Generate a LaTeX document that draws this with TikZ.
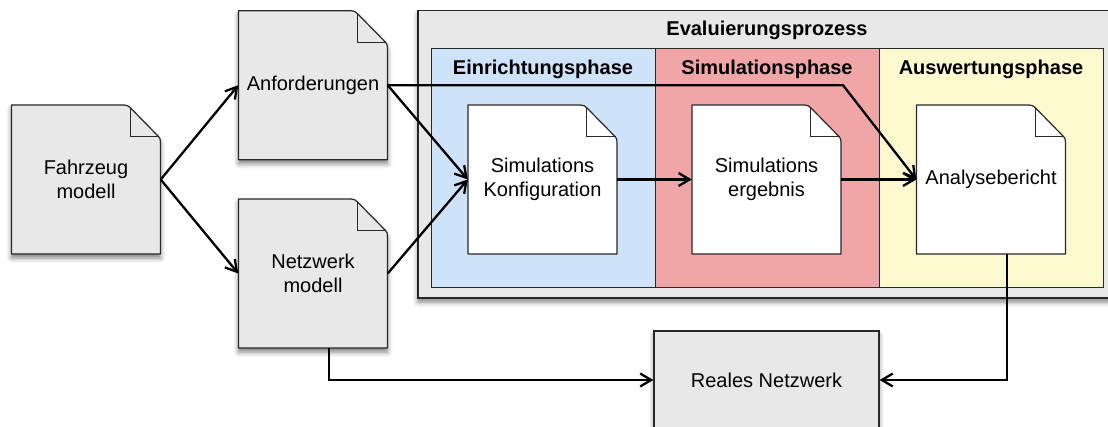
\documentclass[tikz,border=0pt]{standalone}
\usepackage{fontspec}
\setmainfont{Liberation Sans}
\usetikzlibrary{arrows.meta,shadows.blur,calc}
\definecolor{docgray}{RGB}{232,232,232}
\definecolor{phblue}{RGB}{206,226,250}
\definecolor{phred}{RGB}{240,166,166}
\definecolor{phyellow}{RGB}{252,249,206}
\definecolor{edgegray}{RGB}{40,40,40}
\tikzset{
  docoutline/.style={draw=edgegray, line width=1.2pt, line join=round},
  foldline/.style={draw=edgegray, line width=0.9pt},
  softshadow/.style={blur shadow={shadow xshift=0pt, shadow yshift=-4pt, shadow blur radius=5pt, shadow opacity=50}},
  doclabel/.style={minimum width=149pt, minimum height=149pt, inner sep=0pt, align=center, font=\fontsize{20}{24}\selectfont},
  conn/.style={line width=2.3pt, -{Straight Barb[length=11pt,width=13pt]}},
  bigbox/.style={draw=black!85, line width=1.5pt, fill=docgray, inner sep=0pt},
  phasebox/.style={draw=edgegray, line width=0.9pt, inner sep=0pt, minimum width=224pt, minimum height=239pt},
  boldlabel/.style={font=\fontsize{20}{24}\selectfont\bfseries, inner sep=0pt},
  plainbox/.style={draw=edgegray, line width=1.2pt, fill=docgray, inner sep=0pt, font=\fontsize{20}{24}\selectfont}
}
% #1 name, #2 x, #3 y, #4 fill, #5 extra style, #6 text
\newcommand\docnode[6]{%
  \begin{scope}[shift={(#2,#3)}]
    \path[docoutline, fill=#4, #5] (-74.5,-74.5) -- (38,-74.5)
      .. controls (41,-74.5) and (42.5,-73.5) .. (44.5,-71.5) -- (72.5,-43)
      .. controls (74,-41.5) and (74.5,-40) .. (74.5,-37) -- (74.5,74.5) -- (-74.5,74.5) -- cycle;
    \draw[foldline] (44,-72) -- (44,-43) -- (73,-43);
  \end{scope}
  \node[doclabel] (#1) at (#2,#3) {#6};
}
\begin{document}
\begin{tikzpicture}[x=1pt,y=-1pt]
\useasboundingbox (0,0) rectangle (1108,427);

% evaluation container
\node[bigbox, softshadow, minimum width=697pt, minimum height=287.3pt] (eval) at (766.5,154.35) {};
\node[boldlabel] (evaltitle) at (767,30) {Evaluierungsprozess};

% phases
\node[phasebox, fill=phblue] (p1) at (543,167.5) {};
\node[phasebox, fill=phred] (p2) at (767,167.5) {};
\node[phasebox, fill=phyellow] (p3) at (991,167.5) {};
\node[boldlabel] (p1t) at (543,69) {Einrichtungsphase};
\node[boldlabel] (p2t) at (767,69) {Simulationsphase};
\node[boldlabel] (p3t) at (991,69) {Auswertungsphase};

% documents
\docnode{fz}{86}{179.5}{docgray}{softshadow}{Fahrzeug\\modell}
\docnode{anf}{313}{85.2}{docgray}{softshadow}{Anforderungen}
\docnode{net}{313}{273.5}{docgray}{softshadow}{Netzwerk\\modell}
\docnode{sk}{542.5}{179.5}{white}{}{Simulations\\Konfiguration}
\docnode{se}{766.5}{179.5}{white}{}{Simulations\\ergebnis}
\docnode{ab}{991}{179.5}{white}{}{Analysebericht}

% real network
\node[plainbox, softshadow, minimum width=225pt, minimum height=98pt] (rn) at (766.5,380) {Reales Netzwerk};

% connectors
\coordinate (bend) at (843,0);
\draw[conn] (fz.east) -- (anf.west);
\draw[conn] (fz.east) -- (net.west);
\draw[conn] (anf.east) -- (sk.west);
\draw[conn] (net.east) -- (sk.west);
\draw[conn] (anf.east) -- (anf.east -| bend) -- (ab.west);
\draw[conn] (sk.east) -- (se.west);
\draw[conn] (se.east) -- (ab.west);
\draw[conn] ([xshift=16pt]net.south) |- (rn.west);
\draw[conn] ([xshift=16pt]ab.south) |- (rn.east);
\end{tikzpicture}
\end{document}
